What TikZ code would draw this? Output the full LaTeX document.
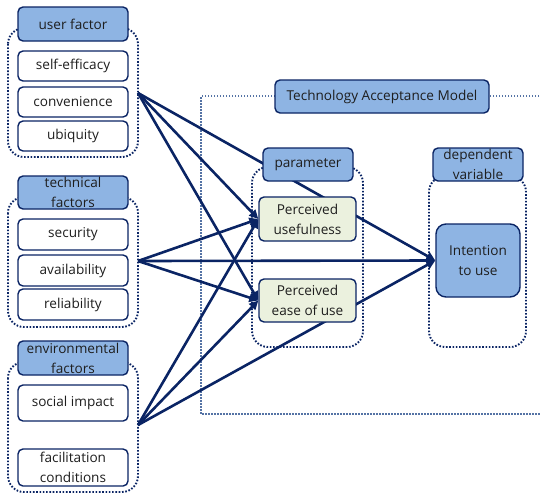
\documentclass[tikz,border=0pt]{standalone}
\usepackage{fontspec}
\setmainfont{Open Sans}
\usetikzlibrary{arrows.meta}
\pgfdeclarelayer{back}
\pgfdeclarelayer{mid}
\pgfsetlayers{back,mid,main}
\definecolor{navy}{RGB}{10,36,100}
\definecolor{hblue}{RGB}{142,180,227}
\definecolor{pgreen}{RGB}{235,241,222}
\definecolor{tamdot}{RGB}{85,115,165}
\definecolor{txt}{RGB}{30,30,30}
\begin{document}
\begin{tikzpicture}[x=1pt,y=-1pt,
  box/.style={draw=navy, line width=1.4pt, rounded corners=5pt, inner sep=0pt,
    align=center, text=txt, font=\fontsize{13.6}{20}\selectfont, minimum width=110pt},
  hdr/.style={box, fill=hblue},
  itembox/.style={box, fill=white},
  pbox/.style={box, fill=pgreen, minimum width=97pt},
  grp/.style={draw=navy, line width=1.9pt, dash pattern=on 1.6pt off 1.7pt, rounded corners=16pt},
  tam/.style={draw=tamdot, line width=1.3pt, dash pattern=on 1.5pt off 1.5pt},
  link/.style={draw=navy, line width=2.6pt, -{Triangle[length=9pt,width=8.5pt]}}
]
\useasboundingbox (0,0) rectangle (540,493);

% left column
\node[hdr, minimum height=34pt] (uf) at (73,24) {user factor};
\node[itembox, minimum height=30pt] (se) at (73,66) {self-efficacy};
\node[itembox, minimum height=30pt] (cv) at (73,102) {convenience};
\node[itembox, minimum height=30pt] (ub) at (73,136) {ubiquity};

\node[hdr, minimum height=33pt] (tf) at (73,192.5) {technical\\factors};
\node[itembox, minimum height=31pt] (sc) at (73,234.5) {security};
\node[itembox, minimum height=31pt] (av) at (73,270.5) {availability};
\node[itembox, minimum height=31pt] (rl) at (73,304.5) {reliability};

\node[hdr, minimum height=34pt] (ef) at (73,358) {environmental\\factors};
\node[itembox, minimum height=36pt] (si) at (73,403) {social impact};
\node[itembox, minimum height=37pt] (fc) at (73,467.5) {facilitation\\conditions};

% right part
\node[hdr, minimum width=214pt, minimum height=33pt] (tamh) at (382,96.5) {Technology Acceptance Model};
\node[hdr, minimum width=90pt, minimum height=33pt] (par) at (308,164.5) {parameter};
\node[pbox, minimum height=44pt] (pu) at (307.5,219) {Perceived\\usefulness};
\node[pbox, minimum height=43pt] (pe) at (307.5,300.5) {Perceived\\ease of use};
\node[hdr, minimum width=90pt, minimum height=33pt] (dv) at (478,164.5) {dependent\\variable};
\node[hdr, minimum width=84pt, minimum height=73pt, rounded corners=10pt] (iu) at (478,260.5) {Intention\\to use};

% origins of connectors
\coordinate (cu) at (138,93);
\coordinate (ca) at (138,261);
\coordinate (ce) at (138,425);

\begin{pgfonlayer}{back}
  \draw[tam] (545,96) -- (201,96) -- (201,414) -- (545,414);
  \draw[grp] (8,28) rectangle (138,157);
  \draw[grp] (8,197) rectangle (138,327);
  \draw[grp] (8,362) rectangle (138,492);
  \draw[grp] (252,167) rectangle (363,347);
  \draw[grp] (429,176) rectangle (526,347);
\end{pgfonlayer}

\begin{pgfonlayer}{mid}
  \draw[link] (cu) -- (pu.west);
  \draw[link] (cu) -- (pe.west);
  \draw[link] (cu) -- (iu.west);
  \draw[link] (ca) -- (pu.west);
  \draw[link] (ca) -- (pe.west);
  \draw[link] (ca) -- (iu.west);
  \draw[link] (ce) -- (pu.west);
  \draw[link] (ce) -- (pe.west);
  \draw[link] (ce) -- (iu.west);
\end{pgfonlayer}
\end{tikzpicture}
\end{document}
